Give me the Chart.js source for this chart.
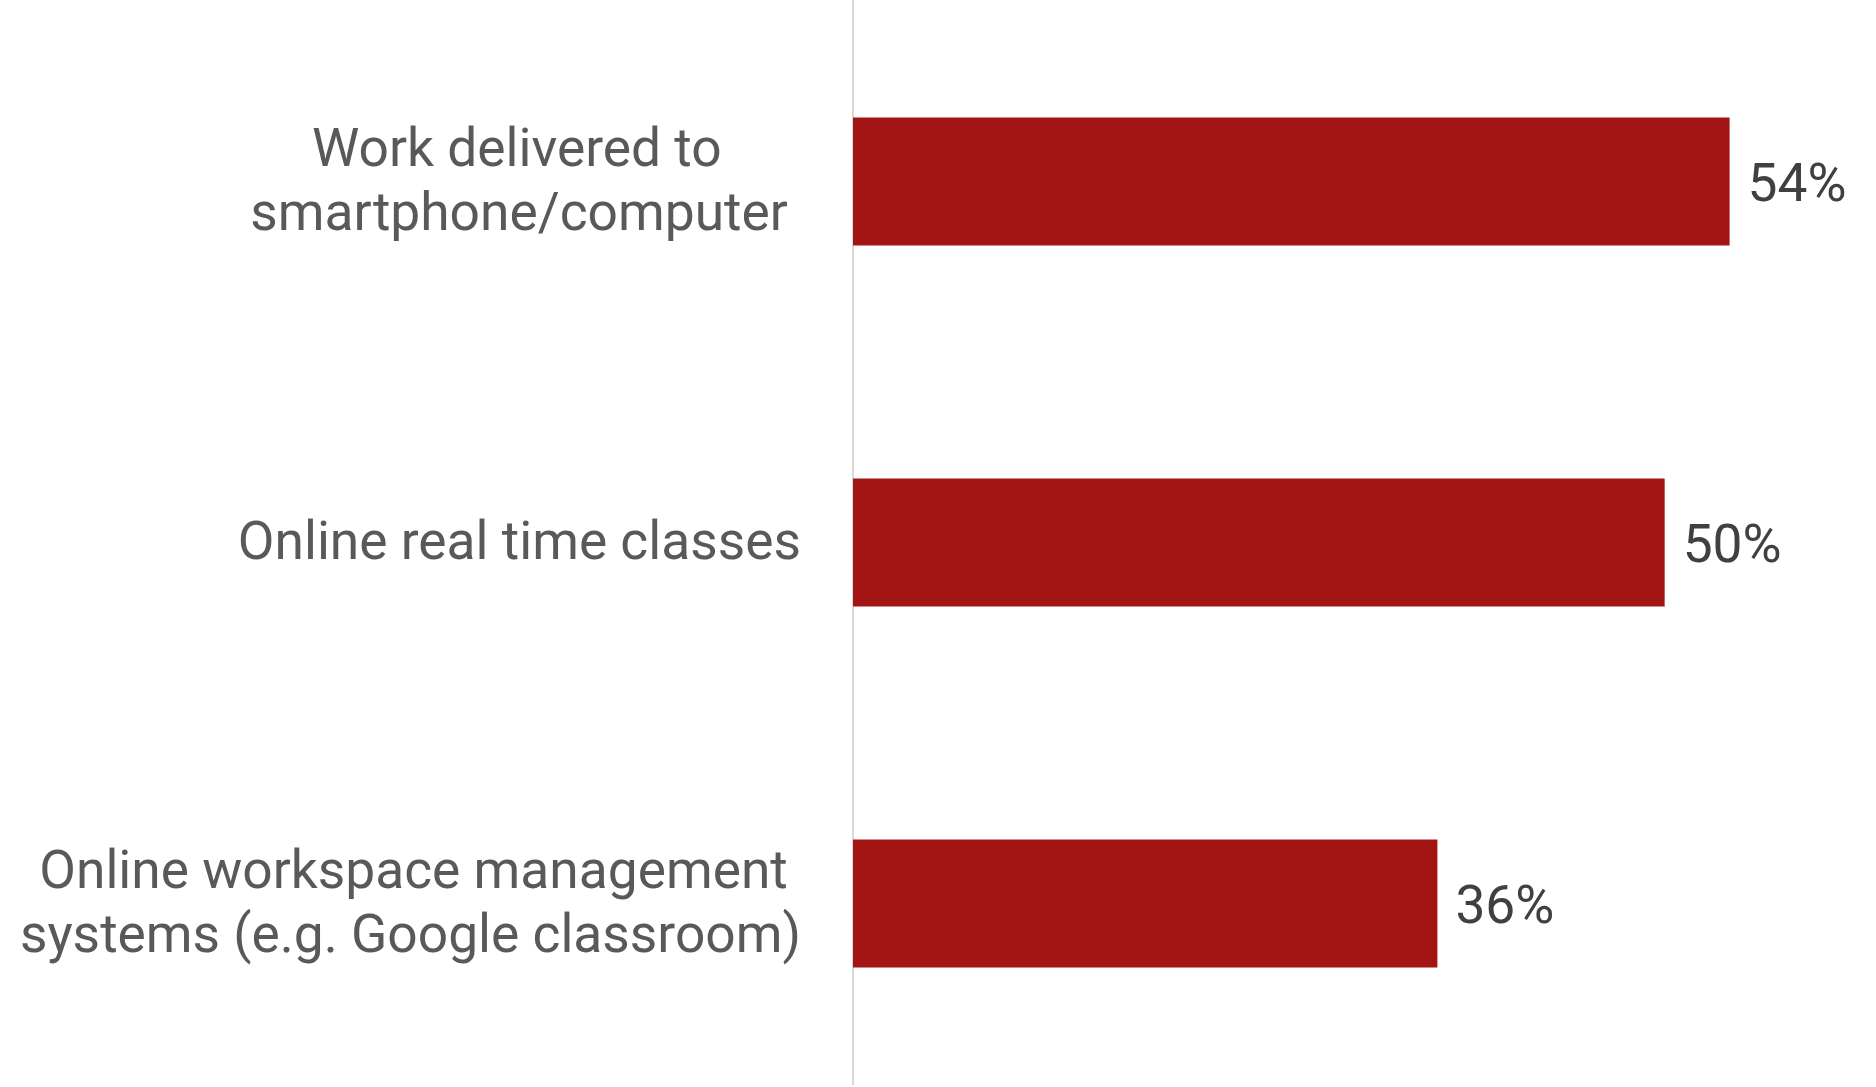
<!DOCTYPE html>
<html>
<head>
<meta charset="utf-8">
<style>
  html, body { margin: 0; padding: 0; background: #ffffff; }
  #wrap { width: 1876px; height: 1087px; position: relative; }
</style>
<script src="https://cdn.jsdelivr.net/npm/chart.js@4/dist/chart.umd.min.js"></script>
</head>
<body>
<div id="wrap"><canvas id="c"></canvas></div>
<script>
// Categories (multi-line labels; trailing spaces keep the visual line centring of the original)
const categories = [
  ["Work delivered to      ", "smartphone/computer "],
  ["Online real time classes"],
  ["Online workspace management ", "systems (e.g. Google classroom)"]
];
const values = [54, 50, 36];
const valueLabels = ["54%", "50%", "36%"];

const BAR_COLOR = "#A31414";
const LABEL_COLOR = "#595959";
const VALUE_COLOR = "#404040";
const FONT = "Roboto";

const valueLabelPlugin = {
  id: "valueLabels",
  afterDatasetsDraw(chart) {
    const ctx = chart.ctx;
    const meta = chart.getDatasetMeta(0);
    ctx.save();
    ctx.font = "53.3px " + FONT;
    ctx.fillStyle = VALUE_COLOR;
    ctx.textAlign = "left";
    ctx.textBaseline = "alphabetic";
    meta.data.forEach((bar, i) => {
      ctx.fillText(valueLabels[i], bar.x + 18, bar.y + 19.4);
    });
    ctx.restore();
  }
};

// nudge the category tick labels slightly down (baseline correction)
const tickNudgePlugin = {
  id: "tickNudge",
  afterLayout(chart) {
    const s = chart.scales.y;
    if (s._nudged) return;
    const orig = s.getLabelItems.bind(s);
    s.getLabelItems = function (ca) {
      const items = orig(ca);
      items.forEach(it => {
        if (!it._nudged) { it.options.translation[1] += 3; it._nudged = true; }
      });
      return items;
    };
    s._nudged = true;
  }
};

new Chart(document.getElementById("c"), {
  type: "bar",
  data: {
    labels: categories,
    datasets: [{
      data: values,
      backgroundColor: BAR_COLOR,
      borderWidth: 0,
      categoryPercentage: 1.0,
      barPercentage: 0.355
    }]
  },
  options: {
    indexAxis: "y",
    responsive: true,
    maintainAspectRatio: false,
    animation: false,
    devicePixelRatio: 1,
    layout: { padding: { top: 1, bottom: 3, left: 0, right: 49 } },
    plugins: {
      legend: { display: false },
      tooltip: { enabled: false }
    },
    scales: {
      x: {
        display: false,
        min: 0,
        max: 60
      },
      y: {
        grid: { display: false, drawTicks: false },
        border: { display: true, color: "#D9D9D9", width: 2 },
        ticks: {
          color: LABEL_COLOR,
          font: { family: FONT, size: 53.3, lineHeight: 1.19 },
          padding: 52,
          crossAlign: "near"
        },
        afterFit(scale) {
          scale.width = 853;
          scale.paddingTop = 0;
          scale.paddingBottom = 0;
        }
      }
    }
  },
  plugins: [valueLabelPlugin, tickNudgePlugin]
});
</script>
</body>
</html>
